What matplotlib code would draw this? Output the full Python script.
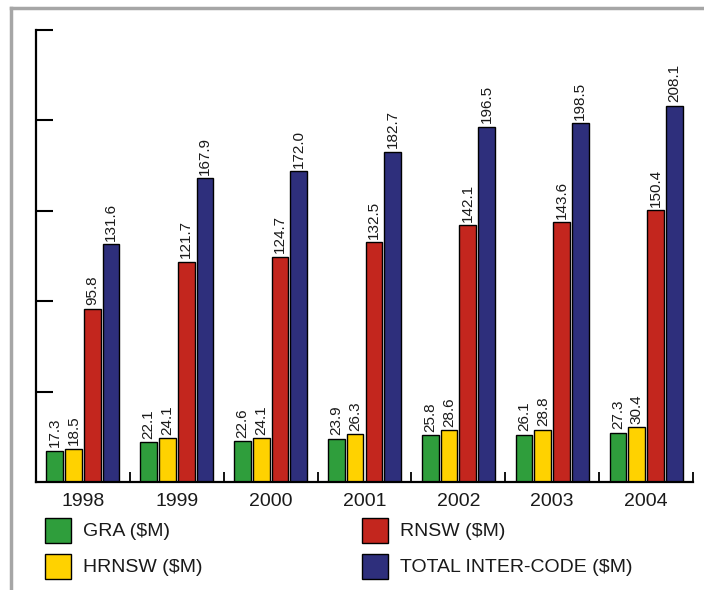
import matplotlib
matplotlib.use("Agg")
import matplotlib.pyplot as plt
import numpy as np
from matplotlib.patches import Rectangle
from matplotlib.lines import Line2D

plt.rcParams['font.family'] = ['Liberation Sans', 'DejaVu Sans']

years = ["1998", "1999", "2000", "2001", "2002", "2003", "2004"]
gra = [17.3, 22.1, 22.6, 23.9, 25.8, 26.1, 27.3]
hrnsw = [18.5, 24.1, 24.1, 26.3, 28.6, 28.8, 30.4]
rnsw = [95.8, 121.7, 124.7, 132.5, 142.1, 143.6, 150.4]
total = [131.6, 167.9, 172.0, 182.7, 196.5, 198.5, 208.1]

series_names = ["GRA ($M)", "HRNSW ($M)", "RNSW ($M)", "TOTAL INTER-CODE ($M)"]
series_colors = ["#2f9e3c", "#ffd200", "#c3261e", "#2e2f7c"]
series_values = [gra, hrnsw, rnsw, total]

W, H = 704, 590
fig = plt.figure(figsize=(W / 100, H / 100), dpi=100)
ax = fig.add_axes([36 / W, 1 - 482 / H, (693 - 36) / W, (482 - 30) / H])

x = np.arange(len(years))
pitch = 0.2
width = 0.178
for i, (vals, col) in enumerate(zip(series_values, series_colors)):
    pos = x + (i - 1.5) * pitch
    ax.bar(pos, vals, width=width, color=col, edgecolor="black", linewidth=1.0, zorder=2)
    for px, v in zip(pos, vals):
        ax.annotate(f"{v:.1f}", (px, v), xytext=(0, 2.5), textcoords="offset points",
                    rotation=90, ha="center", va="bottom", fontsize=11, color="#1a1a1a")

ax.set_xlim(-0.5, len(years) - 0.5)
ax.set_ylim(0, 250)

for s in ["top", "right"]:
    ax.spines[s].set_visible(False)
for s in ["left", "bottom"]:
    ax.spines[s].set_linewidth(1.6)
    ax.spines[s].set_color("black")

ax.set_yticks([50, 100, 150, 200, 250])
ax.set_yticklabels([])
ax.tick_params(axis="y", direction="in", length=12, width=1.5)

ax.set_xticks(np.arange(len(years) + 1) - 0.5)
ax.set_xticklabels([])
ax.tick_params(axis="x", which="major", direction="in", length=7.5, width=1.3)
ax.set_xticks(x, minor=True)
ax.set_xticklabels(years, minor=True, fontsize=14, color="#1a1a1a")
ax.tick_params(axis="x", which="minor", length=0, pad=8)

# legend swatches and labels, laid out in two columns
legend_cells = [(45, 518), (45, 554), (362, 518), (362, 554)]
for (lx, ly), name, col in zip(legend_cells, series_names, series_colors):
    fig.add_artist(Rectangle((lx / W, 1 - (ly + 25) / H), 26 / W, 25 / H,
                             transform=fig.transFigure, facecolor=col,
                             edgecolor="black", linewidth=1.0))
    fig.text((lx + 38) / W, 1 - (ly + 13) / H, name, fontsize=14,
             va="center", ha="left", color="#1a1a1a")

# outer frame
frame_kw = dict(transform=fig.transFigure, color="#a6a6a6", linewidth=2.5)
fig.add_artist(Line2D([10.5 / W, 10.5 / W], [0, 1 - 8 / H], **frame_kw))
fig.add_artist(Line2D([10.5 / W, 1], [1 - 8 / H, 1 - 8 / H], **frame_kw))

fig.savefig("out.png", dpi=100)
